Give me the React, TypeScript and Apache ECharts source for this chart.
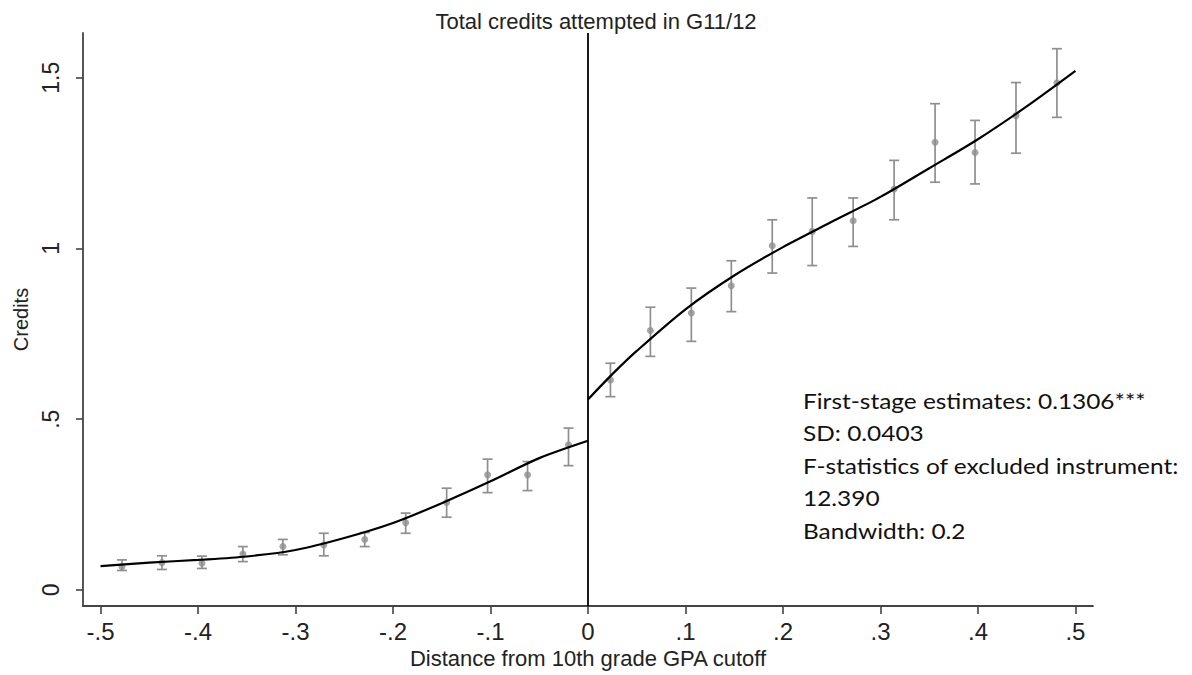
import React, { useEffect, useRef } from "react";
import * as echarts from "echarts";

// ---- data ----
const binX = [-0.478, -0.437, -0.396, -0.354, -0.313, -0.271, -0.229, -0.187, -0.145, -0.103, -0.062, -0.02,
  0.023, 0.064, 0.106, 0.147, 0.189, 0.23, 0.272, 0.314, 0.356, 0.397, 0.439, 0.481];
const binMean = [0.068, 0.08, 0.078, 0.105, 0.127, 0.132, 0.148, 0.197, 0.256, 0.337, 0.337, 0.425,
  0.615, 0.76, 0.811, 0.891, 1.008, 1.05, 1.081, 1.174, 1.311, 1.281, 1.389, 1.485];
const ciLow = [0.057, 0.06, 0.063, 0.083, 0.103, 0.1, 0.127, 0.166, 0.213, 0.285, 0.291, 0.364,
  0.566, 0.684, 0.728, 0.815, 0.928, 0.95, 1.006, 1.084, 1.194, 1.189, 1.279, 1.384];
const ciHigh = [0.088, 0.1, 0.099, 0.127, 0.148, 0.166, 0.168, 0.225, 0.298, 0.383, 0.376, 0.474,
  0.664, 0.828, 0.884, 0.964, 1.084, 1.148, 1.148, 1.258, 1.424, 1.375, 1.486, 1.585];

const leftFitX = [-0.5, -0.45, -0.4, -0.35, -0.3, -0.25, -0.2, -0.15, -0.1, -0.05, 0];
const leftFitY = [0.07, 0.08, 0.088, 0.098, 0.117, 0.152, 0.196, 0.254, 0.318, 0.386, 0.437];
const rightFitX = [0, 0.025, 0.05, 0.1, 0.15, 0.2, 0.25, 0.3, 0.35, 0.4, 0.45, 0.5];
const rightFitY = [0.558, 0.632, 0.7, 0.822, 0.921, 1.004, 1.078, 1.151, 1.235, 1.32, 1.416, 1.52];

const xTicks = [-0.5, -0.4, -0.3, -0.2, -0.1, 0, 0.1, 0.2, 0.3, 0.4, 0.5];
const yTicks = [0, 0.5, 1, 1.5];

const titleText = "Total credits attempted in G11/12";
const xTitle = "Distance from 10th grade GPA cutoff";
const yTitle = "Credits";
const noteLines = [
  "First-stage estimates: 0.1306***",
  "SD: 0.0403",
  "F-statistics of excluded instrument:",
  "12.390",
  "Bandwidth: 0.2",
];

const stataFmt = (v: number) => {
  if (Math.abs(v) < 1e-9) return "0";
  let s = String(Math.round(v * 10) / 10);
  s = s.replace(/^(-?)0\./, "$1.");
  return s;
};

const FONT = "Liberation Sans, Arial, sans-serif";

export default function App() {
  const ref = useRef<HTMLDivElement>(null);
  useEffect(() => {
    if (!ref.current) return;
    const chart = echarts.init(ref.current, null, { renderer: "svg" });
    const barColor = "#8f8f8f";
    const option: any = {
      animation: false,
      backgroundColor: "#ffffff",
      title: {
        text: titleText,
        left: "center",
        top: 5,
        textStyle: { fontFamily: FONT, fontSize: 22, fontWeight: "normal", color: "#222" },
      },
      grid: { left: 83, right: 99, top: 33, bottom: 69, containLabel: false, outerBoundsMode: "none" },
      xAxis: {
        type: "value",
        min: -0.518,
        max: 0.518,
        name: xTitle,
        nameLocation: "middle",
        nameGap: 41,
        nameTextStyle: { fontFamily: FONT, fontSize: 22, color: "#222" },
        axisLine: { show: true, onZero: false, lineStyle: { color: "#444", width: 1.8 } },
        axisTick: { show: true, customValues: xTicks, length: 8, lineStyle: { color: "#444", width: 1.6 } },
        axisLabel: {
          customValues: xTicks,
          formatter: (v: number) => stataFmt(v),
          fontFamily: FONT,
          fontSize: 24,
          color: "#222",
          margin: 13,
        },
        splitLine: { show: false },
      },
      yAxis: {
        type: "value",
        min: -0.047,
        max: 1.631,
        name: yTitle,
        nameLocation: "middle",
        nameGap: 52,
        nameTextStyle: { fontFamily: FONT, fontSize: 20, color: "#222" },
        axisLine: { show: true, onZero: false, lineStyle: { color: "#444", width: 1.8 } },
        axisTick: { show: true, customValues: yTicks, length: 7, lineStyle: { color: "#444", width: 1.6 } },
        axisLabel: {
          customValues: yTicks,
          formatter: (v: number) => stataFmt(v),
          rotate: 90,
          fontFamily: FONT,
          fontSize: 23,
          color: "#222",
          margin: 21,
        },
        splitLine: { show: false },
      },
      series: [
        {
          type: "custom",
          name: "ci",
          data: binX.map((x, i) => [x, ciLow[i], ciHigh[i]]),
          encode: { x: 0, y: [1, 2] },
          renderItem: (params: any, api: any) => {
            const x = api.value(0);
            const lo = api.coord([x, api.value(1)]);
            const hi = api.coord([x, api.value(2)]);
            const hw = 5;
            const st = { stroke: barColor, lineWidth: 1.7 };
            return {
              type: "group",
              children: [
                { type: "line", shape: { x1: lo[0], y1: lo[1], x2: hi[0], y2: hi[1] }, style: st },
                { type: "line", shape: { x1: lo[0] - hw, y1: lo[1], x2: lo[0] + hw, y2: lo[1] }, style: st },
                { type: "line", shape: { x1: hi[0] - hw, y1: hi[1], x2: hi[0] + hw, y2: hi[1] }, style: st },
              ],
            };
          },
          z: 2,
        },
        {
          type: "scatter",
          name: "mean",
          data: binX.map((x, i) => [x, binMean[i]]),
          symbol: "circle",
          symbolSize: 7,
          itemStyle: { color: barColor },
          z: 3,
        },
        {
          type: "line",
          name: "fitLeft",
          data: leftFitX.map((x, i) => [x, leftFitY[i]]),
          smooth: 0.3,
          showSymbol: false,
          symbol: "none",
          lineStyle: { color: "#000", width: 2.2 },
          z: 4,
          markLine: {
            silent: true,
            symbol: ["none", "none"],
            label: { show: false },
            lineStyle: { color: "#000", width: 1.8, type: "solid" },
            data: [{ xAxis: 0 }],
          },
        },
        {
          type: "line",
          name: "fitRight",
          data: rightFitX.map((x, i) => [x, rightFitY[i]]),
          smooth: 0.3,
          showSymbol: false,
          symbol: "none",
          lineStyle: { color: "#000", width: 2.2 },
          z: 4,
        },
      ],
      graphic: [
        {
          type: "text",
          x: 803,
          y: 384,
          scaleX: 1.11,
          scaleY: 1,
          style: {
            text: noteLines.join("\n"),
            fontFamily: "Lato, 'Open Sans', sans-serif",
            fontSize: 22,
            lineHeight: 32.5,
            fill: "#111",
            textVerticalAlign: "top",
            verticalAlign: "top",
          },
        },
      ],
    };
    chart.setOption(option);
    return () => chart.dispose();
  }, []);
  return (
    <div
      ref={ref}
      style={{ position: "fixed", left: 0, top: 0, width: 1192, height: 675, background: "#fff" }}
    />
  );
}
